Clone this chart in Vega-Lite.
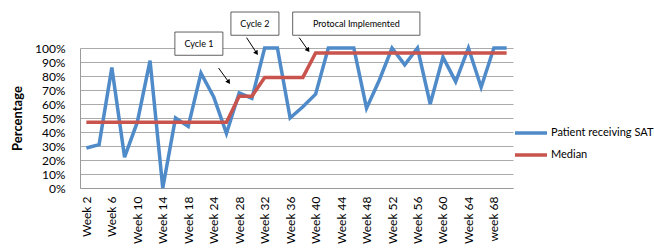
{
  "$schema": "https://vega.github.io/schema/vega-lite/v6.json",
  "autosize": {"type": "none"},
  "width": 433,
  "height": 140,
  "padding": {"left": 80, "top": 48, "right": 141, "bottom": 63},
  "background": "white",
  "config": {
    "view": {"stroke": null},
    "font": "Lato",
    "axis": {"labelFont": "Lato", "titleFont": "Lato", "labelColor": "black", "titleColor": "black"},
    "legend": {"labelFont": "Lato"}
  },
  "datasets": {
    "series": [
      {"week": "Week 2", "Patient receiving SAT": 0.286, "Median": 0.47},
      {"week": "Week 4", "Patient receiving SAT": 0.31, "Median": 0.47},
      {"week": "Week 6", "Patient receiving SAT": 0.86, "Median": 0.47},
      {"week": "Week 8", "Patient receiving SAT": 0.22, "Median": 0.47},
      {"week": "Week 10", "Patient receiving SAT": 0.47, "Median": 0.47},
      {"week": "Week 12", "Patient receiving SAT": 0.91, "Median": 0.47},
      {"week": "Week 14", "Patient receiving SAT": 0.0, "Median": 0.47},
      {"week": "Week 16", "Patient receiving SAT": 0.5, "Median": 0.47},
      {"week": "Week 18", "Patient receiving SAT": 0.44, "Median": 0.47},
      {"week": "Week 20", "Patient receiving SAT": 0.82, "Median": 0.47},
      {"week": "Week 24", "Patient receiving SAT": 0.65, "Median": 0.47},
      {"week": "Week 26", "Patient receiving SAT": 0.39, "Median": 0.47},
      {"week": "Week 28", "Patient receiving SAT": 0.68, "Median": 0.655},
      {"week": "Week 30", "Patient receiving SAT": 0.64, "Median": 0.655},
      {"week": "Week 32", "Patient receiving SAT": 1.0, "Median": 0.79},
      {"week": "Week 34", "Patient receiving SAT": 1.0, "Median": 0.79},
      {"week": "Week 36", "Patient receiving SAT": 0.5, "Median": 0.79},
      {"week": "Week 38", "Patient receiving SAT": 0.58, "Median": 0.79},
      {"week": "Week 40", "Patient receiving SAT": 0.67, "Median": 0.965},
      {"week": "Week 42", "Patient receiving SAT": 1.0, "Median": 0.965},
      {"week": "Week 44", "Patient receiving SAT": 1.0, "Median": 0.965},
      {"week": "Week 46", "Patient receiving SAT": 1.0, "Median": 0.965},
      {"week": "Week 48", "Patient receiving SAT": 0.57, "Median": 0.965},
      {"week": "Week 50", "Patient receiving SAT": 0.77, "Median": 0.965},
      {"week": "Week 52", "Patient receiving SAT": 1.0, "Median": 0.965},
      {"week": "Week 54", "Patient receiving SAT": 0.88, "Median": 0.965},
      {"week": "Week 56", "Patient receiving SAT": 1.0, "Median": 0.965},
      {"week": "Week 58", "Patient receiving SAT": 0.6, "Median": 0.965},
      {"week": "Week 60", "Patient receiving SAT": 0.935, "Median": 0.965},
      {"week": "Week 62", "Patient receiving SAT": 0.76, "Median": 0.965},
      {"week": "Week 64", "Patient receiving SAT": 1.0, "Median": 0.965},
      {"week": "Week 66", "Patient receiving SAT": 0.72, "Median": 0.965},
      {"week": "week 68", "Patient receiving SAT": 1.0, "Median": 0.965},
      {"week": "Week 70", "Patient receiving SAT": 1.0, "Median": 0.965}
    ],
    "boxes": [
      {"label": "Cycle 1", "x1": 6.95, "x2": 10.72, "y1": 1.114, "y2": 0.948, "tx": 8.84, "ty": 1.031},
      {"label": "Cycle 2", "x1": 11.35, "x2": 15.12, "y1": 1.257, "y2": 1.091, "tx": 13.23, "ty": 1.174},
      {"label": "Protocal Implemented", "x1": 16.2, "x2": 26.19, "y1": 1.257, "y2": 1.091, "tx": 21.2, "ty": 1.174}
    ],
    "arrows": [
      {"ax1": 10.38, "ax2": 11.18, "ay1": 0.857, "ay2": 0.757},
      {"ax1": 12.58, "ax2": 13.37, "ay1": 1.074, "ay2": 0.964},
      {"ax1": 16.71, "ax2": 17.41, "ay1": 1.074, "ay2": 0.984}
    ]
  },
  "resolve": {"scale": {"x": "independent"}},
  "layer": [
    {
      "data": {"name": "series"},
      "transform": [{"fold": ["Patient receiving SAT", "Median"], "as": ["series", "value"]}],
      "mark": {"type": "line", "strokeWidth": 3.5, "strokeJoin": "miter"},
      "encoding": {
        "x": {
          "field": "week", "type": "nominal", "sort": null,
          "scale": {"type": "point", "padding": 0.5},
          "axis": {
            "title": null, "labelAngle": -90, "labelFontSize": 12, "labelPadding": 8,
            "ticks": false, "grid": false, "domainColor": "#9a9a9a", "domainWidth": 1,
            "values": ["Week 2", "Week 6", "Week 10", "Week 14", "Week 18", "Week 24", "Week 28", "Week 32", "Week 36", "Week 40", "Week 44", "Week 48", "Week 52", "Week 56", "Week 60", "Week 64", "week 68"],
            "labelOverlap": false
          }
        },
        "y": {
          "field": "value", "type": "quantitative",
          "scale": {"domain": [0, 1], "nice": false},
          "axis": {
            "title": "Percentage", "titleFontSize": 13, "titleFontWeight": "bold", "titlePadding": 10,
            "format": "%", "values": [0, 0.1, 0.2, 0.3, 0.4, 0.5, 0.6, 0.7, 0.8, 0.9, 1], "tickCount": 11,
            "labelFontSize": 12, "labelPadding": 15, "ticks": false, "labelOverlap": false,
            "labelBound": false,
            "gridColor": "#ababab", "gridWidth": 1, "domainColor": "#9a9a9a"
          }
        },
        "color": {
          "field": "series", "type": "nominal",
          "scale": {"domain": ["Patient receiving SAT", "Median"], "range": ["#4F8AC9", "#C9534D"]},
          "legend": {
            "title": null, "orient": "none", "legendX": 439, "legendY": 73,
            "symbolType": "M-1.6,0L1.6,0", "symbolSize": 400, "symbolStrokeWidth": 3.5,
            "labelFontSize": 11, "labelOffset": 8, "rowPadding": 3, "padding": 0,
            "labelLimit": 200
          }
        },
        "order": {"field": "series", "sort": "descending"}
      }
    },
    {
      "data": {"name": "boxes"},
      "mark": {"type": "rect", "fill": "white", "stroke": "#3a3a3a", "strokeWidth": 0.8},
      "encoding": {
        "x": {"field": "x1", "type": "quantitative", "scale": {"domain": [-0.5, 33.5], "nice": false, "zero": false}, "axis": null},
        "x2": {"field": "x2"},
        "y": {"field": "y1", "type": "quantitative", "scale": {"domain": [0, 1], "nice": false},
          "axis": {
            "title": "Percentage", "titleFontSize": 13, "titleFontWeight": "bold", "titlePadding": 10,
            "format": "%", "values": [0, 0.1, 0.2, 0.3, 0.4, 0.5, 0.6, 0.7, 0.8, 0.9, 1], "tickCount": 11,
            "labelFontSize": 12, "labelPadding": 15, "ticks": false, "labelOverlap": false,
            "labelBound": false,
            "gridColor": "#ababab", "gridWidth": 1, "domainColor": "#9a9a9a"
          }},
        "y2": {"field": "y2"}
      }
    },
    {
      "data": {"name": "boxes"},
      "mark": {"type": "text", "fontSize": 9, "font": "Lato", "color": "black", "align": "center", "baseline": "middle"},
      "encoding": {
        "x": {"field": "tx", "type": "quantitative", "scale": {"domain": [-0.5, 33.5], "nice": false, "zero": false}, "axis": null},
        "y": {"field": "ty", "type": "quantitative", "scale": {"domain": [0, 1], "nice": false},
          "axis": {
            "title": "Percentage", "titleFontSize": 13, "titleFontWeight": "bold", "titlePadding": 10,
            "format": "%", "values": [0, 0.1, 0.2, 0.3, 0.4, 0.5, 0.6, 0.7, 0.8, 0.9, 1], "tickCount": 11,
            "labelFontSize": 12, "labelPadding": 15, "ticks": false, "labelOverlap": false,
            "labelBound": false,
            "gridColor": "#ababab", "gridWidth": 1, "domainColor": "#9a9a9a"
          }},
        "text": {"field": "label"}
      }
    },
    {
      "data": {"name": "arrows"},
      "mark": {"type": "rule", "color": "black", "strokeWidth": 1},
      "encoding": {
        "x": {"field": "ax1", "type": "quantitative", "scale": {"domain": [-0.5, 33.5], "nice": false, "zero": false}, "axis": null},
        "x2": {"field": "ax2"},
        "y": {"field": "ay1", "type": "quantitative", "scale": {"domain": [0, 1], "nice": false},
          "axis": {
            "title": "Percentage", "titleFontSize": 13, "titleFontWeight": "bold", "titlePadding": 10,
            "format": "%", "values": [0, 0.1, 0.2, 0.3, 0.4, 0.5, 0.6, 0.7, 0.8, 0.9, 1], "tickCount": 11,
            "labelFontSize": 12, "labelPadding": 15, "ticks": false, "labelOverlap": false,
            "labelBound": false,
            "gridColor": "#ababab", "gridWidth": 1, "domainColor": "#9a9a9a"
          }},
        "y2": {"field": "ay2"}
      }
    },
    {
      "data": {"name": "arrows"},
      "mark": {"type": "point", "shape": "triangle-up", "filled": true, "color": "black", "size": 28, "angle": 145, "opacity": 1},
      "encoding": {
        "x": {"field": "ax2", "type": "quantitative", "scale": {"domain": [-0.5, 33.5], "nice": false, "zero": false}, "axis": null},
        "y": {"field": "ay2", "type": "quantitative", "scale": {"domain": [0, 1], "nice": false},
          "axis": {
            "title": "Percentage", "titleFontSize": 13, "titleFontWeight": "bold", "titlePadding": 10,
            "format": "%", "values": [0, 0.1, 0.2, 0.3, 0.4, 0.5, 0.6, 0.7, 0.8, 0.9, 1], "tickCount": 11,
            "labelFontSize": 12, "labelPadding": 15, "ticks": false, "labelOverlap": false,
            "labelBound": false,
            "gridColor": "#ababab", "gridWidth": 1, "domainColor": "#9a9a9a"
          }}
      }
    }
  ]
}
